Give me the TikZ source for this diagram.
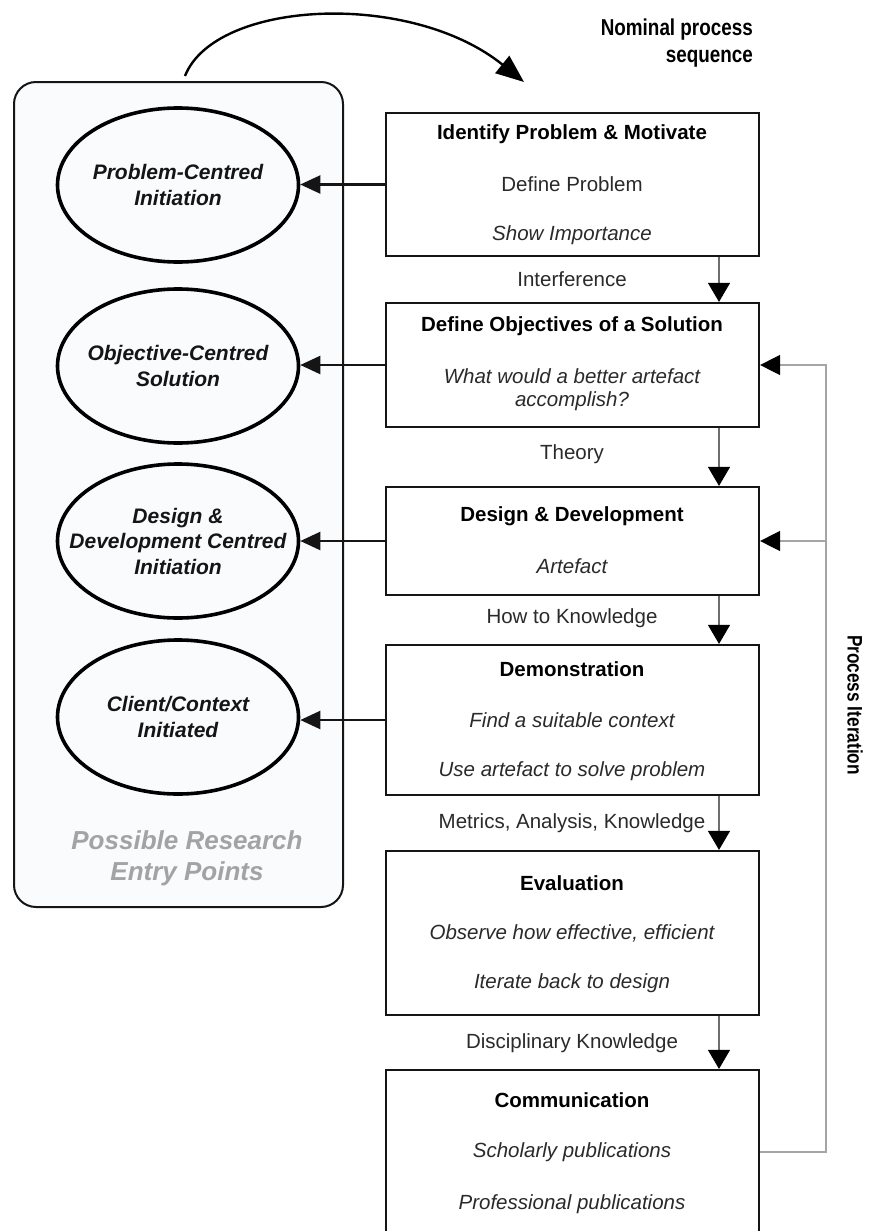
\documentclass[tikz,border=0pt]{standalone}
\usepackage{fontspec}
\setmainfont{Liberation Sans}
\newfontfamily\narrowsans[FakeStretch=0.82]{Liberation Sans}
\usetikzlibrary{arrows.meta,shapes.geometric,calc}

\definecolor{inkdark}{HTML}{151515}
\definecolor{bodyink}{HTML}{2A2A2A}
\definecolor{flowgrey}{HTML}{6E6E6E}
\definecolor{loopgrey}{HTML}{A5A5A5}
\definecolor{hintgrey}{HTML}{A3A3A3}
\definecolor{panelfill}{HTML}{FAFBFD}

\tikzset{
  stagebox/.style={draw=inkdark, line width=2.2pt, minimum width=373pt, inner sep=0pt},
  stagetitle/.style={font=\fontsize{20.5}{24}\selectfont\bfseries, text=black, inner sep=0pt},
  stagetext/.style={font=\fontsize{20.5}{24}\selectfont, text=bodyink, inner sep=0pt, align=center},
  stageitalic/.style={font=\fontsize{20.5}{24}\selectfont\itshape, text=bodyink, inner sep=0pt, align=center},
  flowlabel/.style={font=\fontsize{20.5}{24}\selectfont, text=bodyink, inner sep=0pt},
  entryoval/.style={ellipse, draw=black, line width=3.6pt, minimum width=241pt, minimum height=154pt,
    inner xsep=-40pt, inner ysep=0pt, align=center, font=\fontsize{21}{25.5}\selectfont\bfseries\itshape, text=inkdark},
  seqflow/.style={draw=flowgrey, line width=1.1pt, -{Triangle[length=19pt,width=22pt,color=black]}},
  entryflow/.style={draw=inkdark, line width=2.2pt, -{Triangle[length=20pt,width=18pt]}},
  iterflow/.style={draw=loopgrey, line width=1.3pt},
  iterhead/.style={iterflow, -{Triangle[length=20pt,width=20pt,color=black]}},
  seqarc/.style={draw=black, line width=2.4pt, -{Triangle[length=28pt,width=22pt]}},
}

\begin{document}
\begin{tikzpicture}[x=1pt,y=-1pt]
\useasboundingbox (0,0) rectangle (874,1231);
\clip (0,0) rectangle (874,1231);
\fill[white] (0,0) rectangle (874,1231);

% panel of research entry points
\node[draw=inkdark, fill=panelfill, line width=2pt, rounded corners=22pt,
      minimum width=329pt, minimum height=825pt, inner sep=0pt] (entry) at (178.5,494.5) {};

\node[entryoval] (e1) at (178,185) {Problem-Centred\\Initiation};
\node[entryoval] (e2) at (178,366) {Objective-Centred\\Solution};
\node[entryoval] (e3) at (178,541) {Design \&\\Development Centred\\Initiation};
\node[entryoval] (e4) at (178,717) {Client/Context\\Initiated};

\node[font=\fontsize{26}{31}\selectfont\bfseries\itshape, text=hintgrey, align=center, inner sep=0pt]
  (hint) at (187,858) {Possible Research\\Entry Points};

% process stages
\node[stagebox, minimum height=143pt] (b1) at (572.5,184.5) {};
\node[stagebox, minimum height=124pt] (b2) at (572.5,365) {};
\node[stagebox, minimum height=108pt] (b3) at (572.5,541) {};
\node[stagebox, minimum height=150pt] (b4) at (572.5,720) {};
\node[stagebox, minimum height=164pt] (b5) at (572.5,933) {};
\node[stagebox, minimum height=190pt] (b6) at (572.5,1165) {};

\node[stagetitle] (t1) at (572,134) {Identify Problem \& Motivate};
\node[stagetext] (t1a) at (572,184) {Define Problem};
\node[stageitalic] (t1b) at (572,235) {Show Importance};

\node[stagetitle] (t2) at (572,326) {Define Objectives of a Solution};
\node[stageitalic, font=\fontsize{20.5}{23}\selectfont\itshape] (t2a) at (572,389.5) {What would a better artefact\\accomplish?};

\node[stagetitle] (t3) at (572,516) {Design \& Development};
\node[stageitalic] (t3a) at (572,566) {Artefact};

\node[stagetitle] (t4) at (572,669) {Demonstration};
\node[stageitalic] (t4a) at (572,720) {Find a suitable context};
\node[stageitalic] (t4b) at (572,771) {Use artefact to solve problem};

\node[stagetitle] (t5) at (572,883) {Evaluation};
\node[stageitalic] (t5a) at (572,933) {Observe how effective, efficient};
\node[stageitalic] (t5b) at (572,983) {Iterate back to design};

\node[stagetitle] (t6) at (572,1100) {Communication};
\node[stageitalic] (t6a) at (572,1152) {Scholarly publications};
\node[stageitalic] (t6b) at (572,1204) {Professional publications};

% knowledge passed between stages
\node[flowlabel] (k1) at (572,279) {Interference};
\node[flowlabel] (k2) at (572,454) {Theory};
\node[flowlabel] (k3) at (572,618) {How to Knowledge};
\node[flowlabel] (k4) at (572,823) {Metrics, Analysis, Knowledge};
\node[flowlabel] (k5) at (572,1043) {Disciplinary Knowledge};

\coordinate (lane) at (719,0);
\draw[seqflow] (b1.south -| lane) -- (b2.north -| lane);
\draw[seqflow] (b2.south -| lane) -- (b3.north -| lane);
\draw[seqflow] (b3.south -| lane) -- (b4.north -| lane);
\draw[seqflow] (b4.south -| lane) -- (b5.north -| lane);
\draw[seqflow] (b5.south -| lane) -- (b6.north -| lane);

% entry points
\draw[entryflow] (b1.west) -- (b1.west -| e1.east);
\draw[entryflow] (b2.west) -- (b2.west -| e2.east);
\draw[entryflow] (b3.west) -- (b3.west -| e3.east);
\draw[entryflow] (b4.west) -- (b4.west -| e4.east);

% iteration loop
\coordinate (loop) at (826,0);
\draw[iterhead] (b6.east |- t6a) -| (loop |- b2.east) -- (b2.east);
\draw[iterhead] (loop |- b3.east) -- (b3.east);
\node[font=\fontsize{21}{24}\narrowsans\bfseries, text=black, rotate=-90, inner sep=0pt]
  (iterlbl) at (855,705) {Process Iteration};

% nominal sequence
\coordinate (arcstart) at (185,76);
\coordinate (arcend) at (524,82);
\draw[seqarc] (arcstart) .. controls (215,0) and (410,-10) .. (arcend);
\node[font=\fontsize{23}{27}\narrowsans\bfseries, text=black, align=right, anchor=east, inner sep=0pt]
  (nominal) at (753,43.5) {Nominal process\\sequence};
\end{tikzpicture}
\end{document}
